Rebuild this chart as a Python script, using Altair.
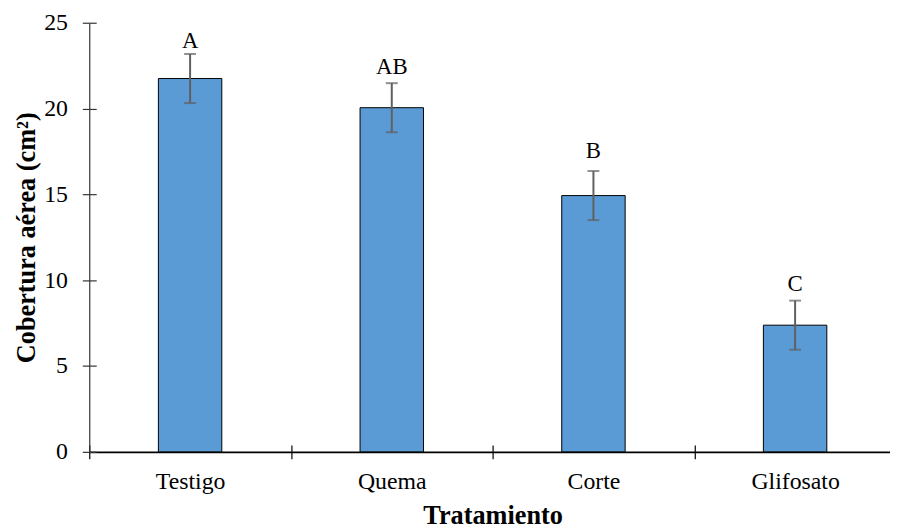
import altair as alt
import pandas as pd

tratamientos = ["Testigo", "Quema", "Corte", "Glifosato"]
medias = [21.75, 20.05, 14.93, 7.38]
errores = [1.43, 1.43, 1.43, 1.43]
letras = ["A", "AB", "B", "C"]
letra_y = [23.55, 22.0, 17.1, 9.35]

df = pd.DataFrame({
    "trat": tratamientos,
    "media": medias,
    "err": errores,
    "letra": letras,
    "ly": letra_y,
})
df["lo"] = df["media"] - df["err"]
df["hi"] = df["media"] + df["err"]

FONT = "Liberation Serif"
W, H = 814, 433

xscale = alt.Scale(domain=tratamientos, paddingInner=0, paddingOuter=0)
yscale = alt.Scale(domain=[0, 25], nice=False)

base = alt.Chart(df)

xaxis = alt.Axis(
    orient="bottom", tickBand="extent", tickSize=7, tickColor="#000", tickWidth=1.2,
    domainColor="#000", domainWidth=1.6, labelFont=FONT, labelFontSize=24,
    labelColor="#000", labelPadding=11, labelAngle=0, title="Tratamiento",
    titleFont=FONT, titleFontSize=26.5, titleFontWeight="bold", titleColor="#000",
    titlePadding=9, grid=False,
)
yaxis = alt.Axis(
    orient="left", values=[0, 5, 10, 15, 20, 25], tickSize=7, tickColor="#333",
    tickWidth=1.2, domainColor="#333", domainWidth=1.2, labelFont=FONT,
    labelFontSize=24, labelColor="#000", labelPadding=15,
    title="Cobertura aérea (cm²)", titleFont=FONT, titleFontSize=26.5,
    titleFontWeight="bold", titleColor="#000", titlePadding=3.5, grid=False,
)

xe = alt.X("trat:N", scale=xscale, sort=tratamientos, axis=None)

bars = base.mark_bar(size=64, color="#5B9BD5", stroke="#000", strokeWidth=1).encode(
    x=alt.X("trat:N", scale=xscale, sort=tratamientos, axis=xaxis),
    y=alt.Y("media:Q", scale=yscale, axis=yaxis),
)

# inner half of the crossing tick marks
inner = base.mark_bar(opacity=0).encode(
    x=alt.X("trat:N", scale=xscale, sort=tratamientos, axis=alt.Axis(
        orient="top", offset=-H, tickBand="extent", tickSize=7, tickColor="#000",
        tickWidth=1.2, domain=False, labels=False, title=None, grid=False)),
    y=alt.Y("media:Q", scale=yscale, axis=alt.Axis(
        orient="right", offset=-W, values=[0, 5, 10, 15, 20, 25], tickSize=7,
        tickColor="#333", tickWidth=1.2, domain=False, labels=False, title=None,
        grid=False)),
)

rules = base.mark_rule(color="#5f5f5f", strokeWidth=2).encode(
    x=xe,
    y=alt.Y("lo:Q", scale=yscale, axis=None),
    y2="hi:Q",
)
cap_hi = base.mark_tick(color="#5f5f5f", size=12, thickness=2, orient="horizontal").encode(
    x=xe,
    y=alt.Y("hi:Q", scale=yscale, axis=None),
)
cap_lo = base.mark_tick(color="#5f5f5f", size=12, thickness=2, orient="horizontal").encode(
    x=xe,
    y=alt.Y("lo:Q", scale=yscale, axis=None),
)
texts = base.mark_text(font=FONT, fontSize=23, color="#000", baseline="alphabetic").encode(
    x=xe,
    y=alt.Y("ly:Q", scale=yscale, axis=None),
    text="letra:N",
)

chart = alt.layer(bars, inner, rules, cap_hi, cap_lo, texts).resolve_axis(
    x="independent", y="independent"
).properties(
    width=W, height=H,
    background="white",
    autosize=alt.AutoSizeParams(type="none"),
    padding={"left": 82, "top": 12.5, "right": -6, "bottom": 77.5},
).configure_view(stroke=None, strokeWidth=0)

chart.save("out.html", embed_options={"renderer": "svg", "actions": False})
